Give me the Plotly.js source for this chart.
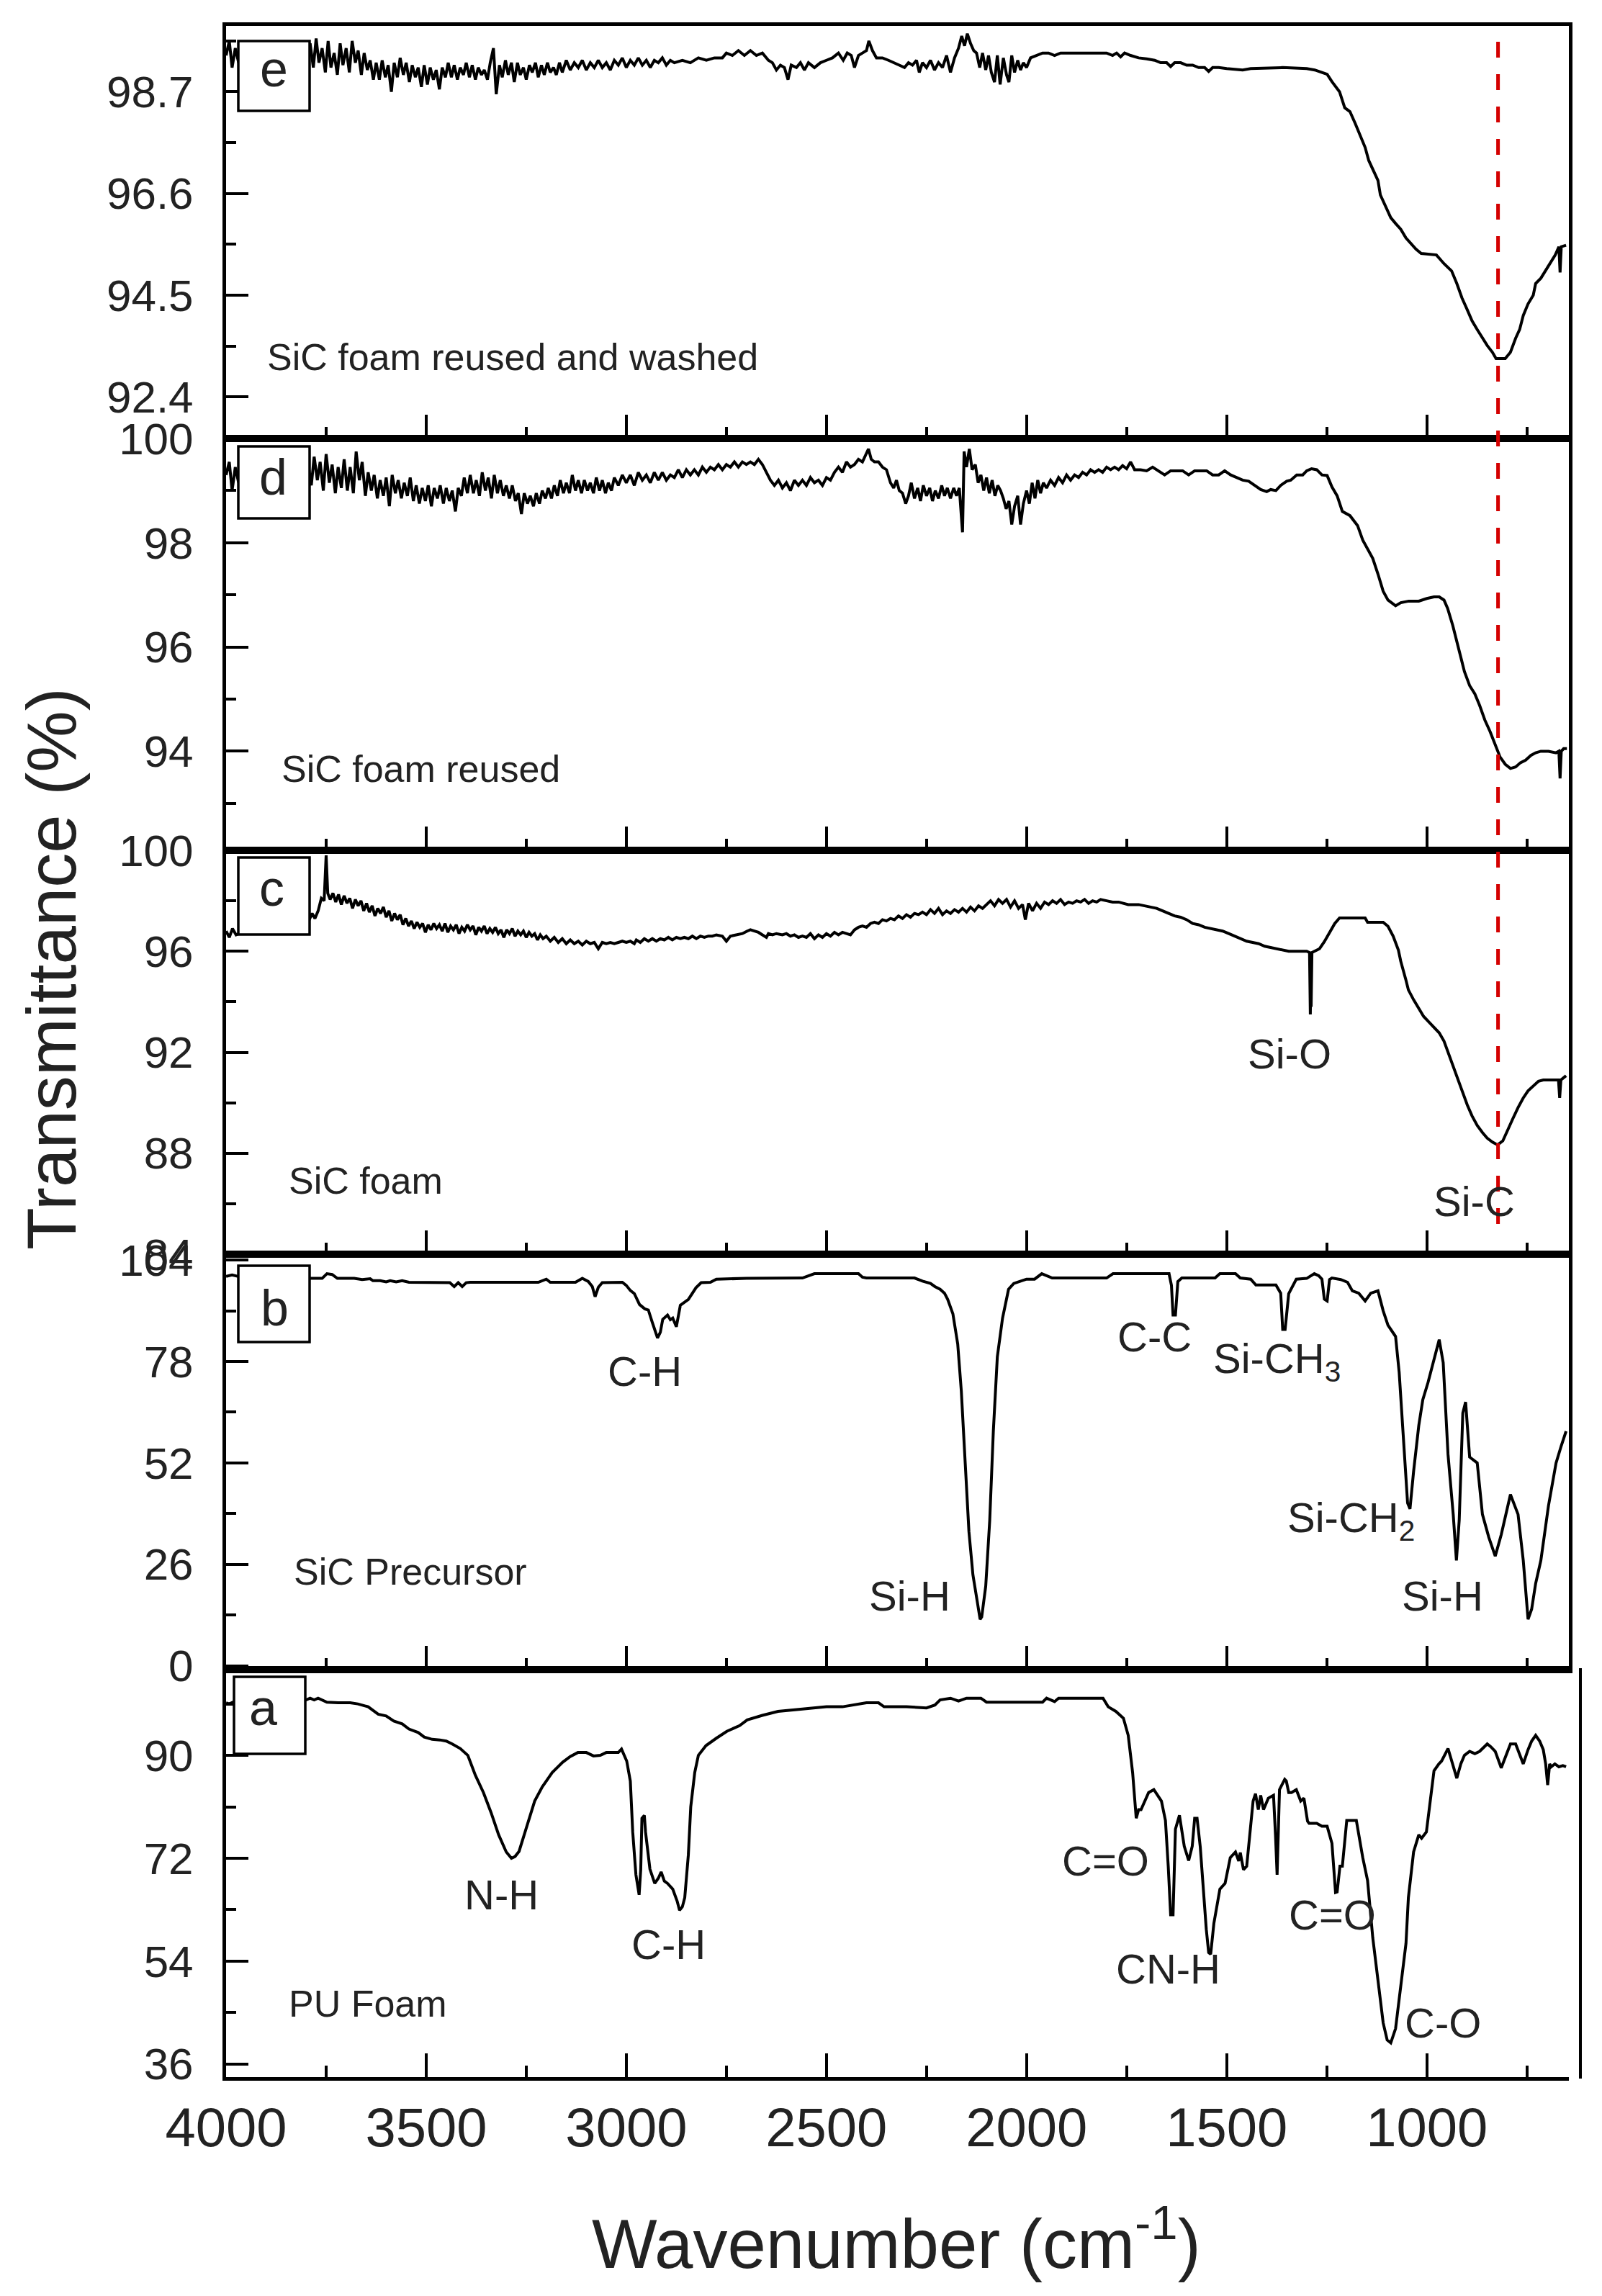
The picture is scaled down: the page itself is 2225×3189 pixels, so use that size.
<!DOCTYPE html>
<html>
<head>
<meta charset="utf-8">
<script src="https://cdn.plot.ly/plotly-3.0.1.min.js"></script>
<style>
  html, body { margin: 0; padding: 0; background: #fff; }
  #chart { width: 2225px; height: 3189px; }
</style>
</head>
<body>
<div id="chart"></div>
<script>
// FTIR spectra: [wavenumber (cm-1), transmittance (%)]
const puFoam = [[4000,99.2],[3992,99.0],[3980,99.4],[3900,99.5],[3830,99.6],[3800,99.7],[3790,100.0],[3780,99.7],[3770,100.0],[3755,99.6],[3748,99.3],[3720,99.2],[3690,99.2],[3671,99.0],[3645,98.5],[3620,97.2],[3600,96.9],[3581,96.0],[3560,95.5],[3543,94.6],[3520,94.0],[3505,93.2],[3485,92.8],[3466,92.7],[3450,92.5],[3435,92.0],[3415,91.2],[3396,90.0],[3377,86.5],[3357,83.5],[3338,80.0],[3319,76.1],[3300,73.1],[3287,72.0],[3278,72.3],[3268,73.2],[3249,77.6],[3229,82.0],[3210,84.5],[3185,87.0],[3159,88.8],[3140,89.8],[3121,90.5],[3100,90.5],[3082,89.9],[3065,90.0],[3050,90.5],[3020,90.5],[3012,91.1],[2999,89.0],[2990,85.5],[2984,76.6],[2976,69.1],[2968,65.6],[2964,70.0],[2961,79.0],[2955,79.5],[2952,76.6],[2941,70.1],[2929,67.6],[2920,68.5],[2913,69.6],[2905,68.0],[2897,67.6],[2884,66.6],[2873,64.5],[2867,62.9],[2860,63.5],[2854,65.1],[2845,72.6],[2839,81.0],[2829,87.0],[2820,90.0],[2801,91.7],[2775,93.0],[2749,94.2],[2717,95.2],[2698,96.2],[2660,97.0],[2621,97.7],[2560,98.1],[2500,98.5],[2460,98.5],[2420,98.9],[2400,99.2],[2370,99.2],[2356,98.5],[2300,98.5],[2250,98.3],[2229,98.8],[2216,99.7],[2190,100.0],[2170,99.5],[2150,100.0],[2114,100.0],[2100,99.3],[2000,99.3],[1960,99.3],[1950,100.0],[1930,99.4],[1920,100.0],[1809,100.0],[1796,98.5],[1777,97.7],[1758,96.5],[1746,93.5],[1735,87.0],[1726,79.0],[1720,80.5],[1714,80.5],[1695,83.5],[1682,84.0],[1663,82.0],[1653,78.6],[1646,70.6],[1640,62.1],[1634,62.1],[1628,77.1],[1618,79.5],[1606,74.1],[1595,71.6],[1586,74.1],[1580,79.0],[1574,79.0],[1566,74.0],[1561,69.1],[1551,59.6],[1545,55.5],[1540,55.2],[1532,60.6],[1517,66.6],[1504,67.6],[1491,72.1],[1478,73.1],[1470,71.5],[1466,73.0],[1458,70.0],[1450,70.6],[1434,82.0],[1428,83.3],[1421,80.5],[1415,83.0],[1408,80.5],[1396,82.5],[1383,83.0],[1378,76.0],[1374,69.1],[1368,84.0],[1361,85.0],[1355,85.8],[1351,85.5],[1345,83.5],[1338,83.5],[1326,84.0],[1315,82.0],[1307,82.5],[1298,78.5],[1294,78.1],[1275,78.1],[1262,77.6],[1249,77.6],[1237,74.6],[1228,66.0],[1224,66.1],[1217,70.6],[1211,70.6],[1200,78.6],[1190,78.6],[1176,78.6],[1160,72.1],[1148,68.1],[1135,58.1],[1122,50.7],[1109,43.2],[1099,40.2],[1090,39.7],[1078,42.2],[1065,49.2],[1052,57.1],[1046,65.1],[1033,73.1],[1020,76.1],[1013,75.5],[1001,76.6],[992,81.5],[982,87.3],[970,88.5],[963,89.0],[947,91.2],[940,89.5],[934,88.0],[925,86.0],[915,88.5],[906,90.0],[893,90.7],[880,90.3],[868,90.7],[849,92.0],[840,91.5],[829,90.7],[814,87.8],[800,90.5],[791,92.0],[778,92.0],[768,90.0],[759,88.5],[747,91.0],[738,92.5],[728,93.5],[718,92.5],[709,91.0],[703,88.5],[698,84.8],[693,88.5],[689,88.0],[680,88.5],[670,88.0],[660,88.2],[652,88.0]];

const sicPrecursor = [[4000,99.8],[3985,100.2],[3970,99.8],[3900,99.5],[3800,99.3],[3790,99.3],[3760,99.3],[3748,100.5],[3735,100.3],[3722,99.3],[3700,99.3],[3680,99.3],[3660,99.0],[3640,99.2],[3633,98.7],[3615,98.7],[3600,98.4],[3590,98.7],[3575,98.4],[3560,98.7],[3543,98.3],[3500,98.3],[3460,98.3],[3441,98.2],[3430,97.2],[3420,98.2],[3410,97.2],[3400,98.2],[3390,98.3],[3377,98.3],[3300,98.3],[3220,98.3],[3200,99.1],[3190,98.3],[3127,98.3],[3110,99.3],[3095,98.5],[3085,97.2],[3078,94.6],[3070,97.0],[3060,98.2],[3040,98.3],[3010,98.3],[3000,97.5],[2990,96.2],[2980,95.4],[2967,92.6],[2954,91.5],[2945,91.2],[2935,88.0],[2928,86.0],[2922,84.0],[2915,85.5],[2909,88.8],[2897,89.9],[2890,88.7],[2884,89.1],[2875,86.9],[2865,92.4],[2845,93.9],[2826,96.9],[2813,98.2],[2790,98.3],[2775,99.1],[2700,99.3],[2600,99.3],[2560,99.4],[2530,100.5],[2480,100.5],[2420,100.5],[2410,99.6],[2400,99.4],[2350,99.4],[2280,99.4],[2260,98.6],[2240,98.0],[2229,97.2],[2216,96.5],[2205,95.5],[2197,93.9],[2184,90.2],[2172,82.5],[2163,70.4],[2153,52.0],[2144,34.4],[2134,23.3],[2121,14.5],[2116,11.9],[2112,12.5],[2102,20.4],[2092,37.3],[2083,60.1],[2073,79.2],[2060,89.1],[2045,96.5],[2032,98.0],[2000,99.1],[1980,99.1],[1962,100.5],[1936,99.4],[1800,99.4],[1784,100.5],[1644,100.5],[1638,97.5],[1634,89.9],[1628,89.9],[1622,98.5],[1612,99.4],[1529,99.4],[1517,100.5],[1478,100.5],[1466,99.4],[1440,99.1],[1427,97.6],[1377,97.6],[1365,95.5],[1360,86.2],[1354,86.2],[1345,95.4],[1326,99.1],[1300,99.3],[1281,100.5],[1270,100.0],[1262,99.1],[1256,94.0],[1249,93.5],[1243,99.0],[1237,99.4],[1215,99.0],[1198,98.3],[1186,96.1],[1170,95.5],[1154,93.5],[1140,95.5],[1122,96.1],[1109,91.0],[1097,87.3],[1078,84.4],[1069,75.2],[1058,57.9],[1048,41.7],[1042,40.2],[1033,49.8],[1020,61.6],[1010,68.2],[997,72.6],[982,78.5],[969,83.6],[959,77.7],[947,54.2],[934,38.8],[926,27.0],[919,37.3],[910,64.8],[903,67.6],[893,53.5],[874,52.0],[861,38.8],[845,32.9],[829,28.1],[814,33.6],[791,43.9],[772,38.8],[759,27.0],[747,11.9],[738,14.5],[728,21.1],[715,27.0],[696,41.0],[677,52.0],[664,56.4],[652,60.1]];

const sicFoam = [[4000,96.8],[3992,96.55],[3984,96.9],[3975,96.65],[3940,96.9],[3900,97.0],[3860,97.1],[3830,97.2],[3800,97.35],[3792,97.25],[3785,97.5],[3778,97.3],[3770,97.6],[3762,98.1],[3755,98.0],[3750,99.8],[3746,98.3],[3740,98.05],[3733,98.3],[3726,97.95],[3719,98.25],[3712,97.85],[3705,98.2],[3698,97.9],[3691,98.1],[3684,97.7],[3677,98.05],[3670,97.8],[3663,98.0],[3656,97.6],[3649,97.9],[3642,97.55],[3635,97.8],[3628,97.4],[3621,97.7],[3614,97.5],[3607,97.75],[3600,97.35],[3593,97.6],[3586,97.2],[3579,97.5],[3572,97.25],[3565,97.45],[3558,97.05],[3551,97.3],[3544,97.0],[3537,97.2],[3530,96.9],[3523,97.15],[3516,96.95],[3509,97.1],[3502,96.75],[3495,97.05],[3488,96.85],[3481,97.1],[3474,96.9],[3467,97.05],[3460,96.8],[3453,97.1],[3446,96.75],[3439,97.0],[3432,96.85],[3425,97.05],[3418,96.7],[3411,96.95],[3404,96.8],[3397,97.05],[3390,96.85],[3383,97.0],[3376,96.65],[3369,96.95],[3362,96.8],[3355,97.0],[3348,96.7],[3341,96.9],[3334,96.75],[3327,96.95],[3320,96.7],[3313,96.85],[3306,96.55],[3299,96.85],[3292,96.7],[3285,96.9],[3278,96.6],[3271,96.8],[3264,96.65],[3257,96.8],[3250,96.55],[3243,96.75],[3236,96.6],[3229,96.7],[3222,96.45],[3215,96.65],[3208,96.5],[3200,96.6],[3190,96.4],[3180,96.55],[3170,96.35],[3160,96.5],[3150,96.3],[3140,96.45],[3130,96.3],[3120,96.4],[3110,96.25],[3100,96.4],[3090,96.3],[3080,96.35],[3070,96.1],[3060,96.35],[3050,96.3],[3040,96.35],[3030,96.3],[3020,96.35],[3010,96.4],[3000,96.35],[2990,96.4],[2980,96.3],[2975,96.45],[2965,96.35],[2955,96.5],[2945,96.4],[2935,96.5],[2925,96.4],[2915,96.5],[2905,96.45],[2895,96.55],[2885,96.45],[2875,96.55],[2865,96.5],[2855,96.55],[2845,96.5],[2835,96.6],[2825,96.5],[2815,96.6],[2805,96.55],[2795,96.6],[2785,96.6],[2775,96.65],[2760,96.6],[2750,96.4],[2740,96.6],[2725,96.65],[2710,96.7],[2698,96.8],[2690,96.85],[2680,96.8],[2670,96.75],[2660,96.65],[2650,96.55],[2645,96.7],[2635,96.65],[2625,96.7],[2610,96.65],[2600,96.7],[2590,96.6],[2580,96.65],[2570,96.55],[2560,96.6],[2550,96.55],[2540,96.7],[2530,96.5],[2520,96.65],[2510,96.55],[2500,96.7],[2490,96.6],[2480,96.75],[2470,96.65],[2460,96.75],[2450,96.7],[2440,96.65],[2430,96.85],[2420,96.95],[2410,97.0],[2400,96.95],[2390,97.1],[2380,97.15],[2370,97.1],[2360,97.25],[2350,97.2],[2340,97.3],[2330,97.25],[2320,97.4],[2310,97.3],[2300,97.45],[2290,97.35],[2280,97.5],[2270,97.45],[2260,97.55],[2250,97.45],[2240,97.65],[2230,97.5],[2220,97.7],[2210,97.45],[2200,97.6],[2190,97.5],[2180,97.65],[2170,97.55],[2160,97.7],[2150,97.55],[2140,97.75],[2130,97.6],[2120,97.8],[2110,97.7],[2100,97.85],[2090,98.0],[2080,97.8],[2070,98.05],[2060,97.9],[2050,98.05],[2040,97.75],[2030,98.0],[2020,97.7],[2010,97.85],[2003,97.25],[1995,97.9],[1985,97.6],[1975,97.9],[1965,97.7],[1955,97.95],[1945,97.85],[1935,98.0],[1925,97.9],[1915,98.05],[1905,97.85],[1895,97.95],[1885,97.9],[1875,98.0],[1865,97.95],[1855,98.05],[1845,97.9],[1835,98.0],[1825,97.95],[1815,98.05],[1800,98.0],[1785,97.95],[1770,97.95],[1755,97.9],[1746,97.85],[1720,97.85],[1705,97.8],[1690,97.75],[1675,97.7],[1660,97.6],[1645,97.5],[1630,97.4],[1615,97.35],[1600,97.25],[1585,97.1],[1570,97.05],[1555,96.95],[1540,96.9],[1525,96.85],[1510,96.8],[1495,96.7],[1480,96.6],[1465,96.5],[1450,96.4],[1435,96.35],[1420,96.3],[1405,96.2],[1390,96.15],[1375,96.1],[1360,96.05],[1345,96.0],[1300,96.0],[1293,95.95],[1291,93.5],[1290,94.7],[1289,93.8],[1287,95.95],[1280,96.0],[1268,96.1],[1256,96.38],[1243,96.77],[1230,97.1],[1218,97.32],[1154,97.32],[1148,97.15],[1109,97.15],[1097,96.99],[1084,96.6],[1071,96.05],[1065,95.6],[1052,94.85],[1046,94.47],[1033,94.08],[1020,93.75],[1008,93.42],[989,93.1],[969,92.77],[957,92.44],[947,92.0],[934,91.45],[925,91.0],[912,90.47],[899,89.92],[887,89.48],[874,89.1],[861,88.82],[849,88.6],[836,88.44],[823,88.33],[810,88.49],[798,88.93],[785,89.37],[772,89.81],[759,90.19],[747,90.47],[734,90.68],[721,90.85],[709,90.9],[671,90.9],[668,90.19],[665,90.9],[652,91.07]];

const sicReused = [[4000,99.3],[3992,99.55],[3985,99.0],[3977,99.45],[3970,99.2],[3940,99.4],[3900,99.3],[3860,99.45],[3820,99.35],[3795,99.5],[3787,99.1],[3780,99.65],[3772,99.2],[3765,99.55],[3757,99.0],[3750,99.7],[3742,99.15],[3735,99.5],[3727,98.95],[3720,99.45],[3712,99.05],[3705,99.6],[3697,99.0],[3690,99.45],[3682,98.95],[3675,99.75],[3667,99.2],[3660,99.55],[3652,98.9],[3645,99.35],[3637,99.0],[3630,99.3],[3622,98.85],[3615,99.2],[3607,98.9],[3600,99.25],[3592,98.7],[3585,99.3],[3577,98.95],[3570,99.2],[3562,98.85],[3555,99.15],[3547,98.9],[3540,99.25],[3532,98.8],[3525,99.1],[3517,98.75],[3510,99.05],[3502,98.8],[3495,99.1],[3487,98.7],[3480,99.05],[3472,98.85],[3465,99.1],[3457,98.75],[3450,99.05],[3442,98.8],[3435,99.0],[3427,98.6],[3420,99.05],[3412,98.9],[3405,99.25],[3397,98.95],[3390,99.3],[3382,98.95],[3375,99.2],[3367,98.9],[3360,99.35],[3352,99.0],[3345,99.25],[3337,98.85],[3330,99.3],[3322,98.95],[3315,99.2],[3307,98.9],[3300,99.1],[3292,98.85],[3285,99.1],[3277,98.8],[3270,98.95],[3262,98.55],[3255,98.95],[3247,98.75],[3240,98.9],[3232,98.7],[3225,98.95],[3217,98.75],[3210,99.0],[3202,98.85],[3195,99.05],[3187,98.85],[3180,99.1],[3172,98.9],[3165,99.2],[3157,98.95],[3150,99.15],[3142,98.95],[3135,99.3],[3127,99.0],[3120,99.2],[3112,98.95],[3105,99.2],[3097,99.0],[3090,99.15],[3082,98.95],[3075,99.25],[3067,99.0],[3060,99.2],[3052,98.95],[3045,99.15],[3037,99.0],[3030,99.25],[3020,99.1],[3010,99.3],[3000,99.15],[2990,99.3],[2980,99.1],[2970,99.35],[2960,99.2],[2950,99.3],[2940,99.15],[2930,99.35],[2920,99.2],[2910,99.35],[2900,99.2],[2890,99.3],[2880,99.25],[2870,99.4],[2860,99.25],[2850,99.4],[2840,99.3],[2830,99.4],[2820,99.3],[2810,99.45],[2800,99.35],[2790,99.45],[2780,99.4],[2770,99.5],[2760,99.4],[2750,99.5],[2740,99.45],[2730,99.55],[2720,99.45],[2710,99.55],[2700,99.5],[2690,99.55],[2680,99.5],[2670,99.6],[2660,99.5],[2650,99.35],[2640,99.2],[2630,99.1],[2620,99.2],[2610,99.05],[2600,99.15],[2590,99.0],[2580,99.2],[2570,99.1],[2560,99.2],[2550,99.1],[2540,99.25],[2530,99.15],[2520,99.2],[2510,99.1],[2500,99.25],[2490,99.2],[2480,99.35],[2470,99.45],[2460,99.35],[2450,99.55],[2440,99.45],[2430,99.5],[2420,99.6],[2410,99.55],[2400,99.7],[2395,99.8],[2388,99.6],[2380,99.55],[2370,99.55],[2360,99.45],[2350,99.4],[2340,99.15],[2332,99.05],[2325,99.2],[2318,99.0],[2310,98.95],[2302,98.75],[2295,98.9],[2288,99.15],[2280,98.85],[2272,99.05],[2265,98.8],[2258,99.1],[2250,98.9],[2242,99.05],[2235,98.8],[2228,99.0],[2220,98.85],[2212,99.1],[2205,98.9],[2198,99.05],[2190,98.85],[2182,99.05],[2175,98.9],[2168,99.05],[2160,98.2],[2156,99.75],[2150,99.45],[2143,99.8],[2136,99.4],[2128,99.5],[2121,99.15],[2114,99.3],[2107,99.0],[2100,99.25],[2093,98.95],[2086,99.2],[2079,98.9],[2072,99.1],[2065,99.0],[2058,98.85],[2051,98.65],[2044,98.8],[2037,98.35],[2030,98.7],[2022,98.9],[2015,98.35],[2008,98.75],[2000,99.0],[1993,98.75],[1986,99.15],[1979,98.85],[1972,99.2],[1965,98.95],[1958,99.15],[1950,99.05],[1940,99.2],[1930,99.1],[1920,99.25],[1910,99.15],[1900,99.3],[1890,99.2],[1880,99.3],[1870,99.25],[1860,99.35],[1850,99.3],[1840,99.4],[1830,99.35],[1820,99.4],[1810,99.35],[1800,99.45],[1790,99.4],[1780,99.45],[1770,99.4],[1760,99.48],[1750,99.42],[1740,99.55],[1730,99.4],[1715,99.4],[1700,99.38],[1685,99.45],[1670,99.38],[1655,99.3],[1640,99.38],[1610,99.38],[1595,99.3],[1580,99.38],[1550,99.38],[1535,99.3],[1520,99.3],[1505,99.38],[1490,99.3],[1475,99.25],[1460,99.2],[1445,99.18],[1430,99.1],[1415,99.02],[1400,98.98],[1390,99.02],[1377,99.0],[1365,99.1],[1350,99.18],[1340,99.2],[1325,99.3],[1310,99.3],[1300,99.38],[1288,99.42],[1275,99.4],[1262,99.3],[1249,99.29],[1237,99.07],[1224,98.9],[1211,98.6],[1192,98.52],[1173,98.33],[1160,98.05],[1148,97.89],[1135,97.7],[1122,97.4],[1109,97.07],[1097,96.9],[1078,96.79],[1065,96.85],[1045,96.88],[1020,96.88],[1000,96.93],[982,96.96],[969,96.96],[957,96.9],[948,96.74],[935,96.41],[922,96.03],[912,95.75],[906,95.53],[893,95.26],[880,95.1],[868,94.88],[855,94.6],[842,94.38],[830,94.16],[817,93.89],[804,93.75],[791,93.67],[778,93.7],[766,93.78],[753,93.83],[740,93.92],[728,93.97],[715,94.0],[696,94.0],[677,93.97],[670,94.0],[667,93.48],[664,94.0],[658,94.05],[650,94.05]];

const sicReusedWashed = [[4000,99.45],[3992,99.75],[3985,99.2],[3977,99.6],[3970,99.35],[3950,99.5],[3920,99.4],[3890,99.55],[3860,99.45],[3830,99.6],[3800,99.5],[3790,99.7],[3782,99.2],[3775,99.8],[3768,99.3],[3760,99.6],[3752,99.1],[3745,99.75],[3738,99.2],[3730,99.5],[3722,99.05],[3715,99.7],[3708,99.25],[3700,99.6],[3692,99.1],[3685,99.75],[3677,99.3],[3670,99.55],[3662,99.05],[3655,99.5],[3647,99.15],[3640,99.35],[3632,98.95],[3625,99.3],[3617,98.95],[3610,99.35],[3602,99.0],[3595,99.25],[3587,98.7],[3580,99.3],[3572,99.0],[3565,99.4],[3557,99.05],[3550,99.3],[3542,98.9],[3535,99.25],[3527,99.0],[3520,99.2],[3512,98.8],[3505,99.25],[3497,98.85],[3490,99.2],[3482,98.95],[3475,99.15],[3467,98.75],[3460,99.2],[3452,99.0],[3445,99.3],[3437,99.0],[3430,99.25],[3422,98.95],[3415,99.2],[3407,99.05],[3400,99.3],[3392,99.0],[3385,99.25],[3377,98.95],[3370,99.2],[3362,99.05],[3355,99.15],[3347,98.95],[3340,99.3],[3332,99.6],[3325,98.65],[3317,99.25],[3310,99.0],[3302,99.35],[3295,99.05],[3287,99.3],[3280,98.9],[3272,99.3],[3265,99.05],[3257,99.2],[3250,98.95],[3242,99.25],[3235,99.1],[3227,99.3],[3220,99.0],[3212,99.25],[3205,99.05],[3197,99.3],[3190,99.1],[3182,99.2],[3175,99.05],[3167,99.3],[3160,99.1],[3150,99.35],[3140,99.15],[3130,99.3],[3120,99.2],[3110,99.35],[3100,99.15],[3090,99.3],[3080,99.2],[3070,99.35],[3060,99.2],[3050,99.3],[3040,99.15],[3030,99.35],[3020,99.25],[3010,99.4],[3000,99.2],[2990,99.35],[2980,99.25],[2970,99.4],[2960,99.25],[2950,99.35],[2940,99.2],[2930,99.35],[2920,99.3],[2910,99.4],[2900,99.25],[2890,99.35],[2880,99.3],[2860,99.35],[2840,99.3],[2820,99.4],[2800,99.35],[2780,99.4],[2760,99.4],[2750,99.5],[2735,99.45],[2720,99.55],[2705,99.45],[2690,99.55],[2675,99.45],[2660,99.5],[2645,99.35],[2635,99.3],[2625,99.15],[2615,99.25],[2605,99.2],[2596,98.95],[2588,99.25],[2575,99.2],[2565,99.3],[2555,99.15],[2545,99.3],[2530,99.2],[2515,99.3],[2500,99.35],[2485,99.4],[2470,99.5],[2458,99.35],[2448,99.5],[2438,99.45],[2430,99.2],[2420,99.45],[2410,99.5],[2400,99.55],[2394,99.75],[2385,99.55],[2375,99.4],[2360,99.4],[2345,99.35],[2330,99.3],[2318,99.25],[2305,99.2],[2295,99.3],[2285,99.25],[2275,99.35],[2268,99.1],[2260,99.3],[2250,99.2],[2240,99.35],[2230,99.15],[2220,99.3],[2210,99.2],[2200,99.45],[2190,99.1],[2180,99.4],[2170,99.6],[2162,99.85],[2155,99.65],[2148,99.9],[2140,99.7],[2132,99.55],[2125,99.5],[2117,99.2],[2110,99.5],[2102,99.15],[2095,99.45],[2088,99.1],[2080,98.9],[2073,99.45],[2066,98.85],[2058,99.4],[2050,99.05],[2044,98.9],[2037,99.45],[2030,99.1],[2022,99.35],[2015,99.15],[2008,99.3],[2000,99.2],[1990,99.4],[1975,99.45],[1960,99.5],[1945,99.5],[1930,99.45],[1915,99.5],[1800,99.5],[1785,99.45],[1775,99.5],[1765,99.42],[1755,99.5],[1740,99.45],[1720,99.4],[1700,99.38],[1680,99.35],[1665,99.3],[1650,99.3],[1640,99.22],[1630,99.3],[1615,99.3],[1600,99.25],[1585,99.25],[1570,99.2],[1555,99.2],[1545,99.12],[1535,99.2],[1520,99.2],[1500,99.18],[1460,99.15],[1440,99.18],[1360,99.2],[1300,99.18],[1280,99.15],[1262,99.1],[1249,99.06],[1237,98.91],[1218,98.7],[1205,98.37],[1192,98.29],[1179,98.05],[1167,97.81],[1154,97.55],[1145,97.28],[1135,97.1],[1122,96.87],[1116,96.57],[1103,96.33],[1090,96.1],[1078,95.98],[1065,95.86],[1052,95.68],[1039,95.56],[1027,95.45],[1014,95.36],[976,95.33],[957,95.15],[938,95.0],[925,94.74],[912,94.44],[899,94.2],[887,93.97],[874,93.79],[861,93.61],[849,93.46],[836,93.32],[827,93.19],[804,93.19],[791,93.32],[778,93.61],[768,93.79],[759,94.08],[747,94.32],[734,94.5],[728,94.74],[715,94.85],[702,95.03],[689,95.21],[679,95.33],[670,95.5],[667,94.97],[664,95.5],[652,95.53]];

// panels from bottom (a) to top (e)
const spectra = [puFoam, sicPrecursor, sicFoam, sicReused, sicReusedWashed];
const panelLetters = ['a', 'b', 'c', 'd', 'e'];
const sampleNames = ['PU Foam', 'SiC Precursor', 'SiC foam', 'SiC foam reused', 'SiC foam reused and washed'];
const xTicks = [4000, 3500, 3000, 2500, 2000, 1500, 1000];
const xMinor = [3750, 3250, 2750, 2250, 1750, 1250, 750];
const yRanges = [[33.7, 105], [-1, 105.5], [84, 100], [92.1, 100], [91.54, 100.06]];
const yTicks = [[36, 54, 72, 90], [0, 26, 52, 78, 104], [84, 88, 92, 96, 100], [94, 96, 98, 100], [92.4, 94.5, 96.6, 98.7]];
const yMinor = [[45, 63, 81, 99], [13, 39, 65, 91], [86, 90, 94, 98], [93, 95, 97, 99], [93.45, 95.55, 97.65, 99.75]];
const siCBand = 822;

// page geometry in px
const L = 314, R = 2179, T = 36, B = 2885;
const panelTop = [2319, 1742, 1181, 609, 36];
const panelBottom = [2885, 2319, 1742, 1181, 609];
const px = x => (x - L) / (R - L);
const py = y => (B - y) / (B - T);
const FONT = 'Liberation Sans, Arial, sans-serif';
const INK = '#222';

const traces = spectra.map((s, i) => ({
    x: s.map(p => p[0]),
    y: s.map(p => p[1]),
    xaxis: 'x' + (i ? i + 1 : ''),
    yaxis: 'y' + (i ? i + 1 : ''),
    mode: 'lines',
    line: {color: '#000', width: 4},
    hoverinfo: 'skip'
}));

const layout = {
    width: 2225, height: 3189,
    margin: {l: L, r: 2225 - R, t: T, b: 3189 - B, pad: 0},
    paper_bgcolor: '#fff', plot_bgcolor: '#fff',
    showlegend: false,
    font: {family: FONT, color: INK},
    shapes: [], annotations: []
};

spectra.forEach((s, i) => {
    const n = i ? String(i + 1) : '';
    layout['xaxis' + n] = {
        domain: [0, 1], anchor: 'y' + n, range: [4000, 645],
        tickmode: 'array', tickvals: xTicks, ticktext: xTicks.map(String),
        ticks: 'inside', ticklen: 33, tickwidth: 4, tickcolor: '#000',
        minor: {tickmode: 'array', tickvals: xMinor, ticks: 'inside', ticklen: 16, tickwidth: 4, tickcolor: '#000', showgrid: false},
        showticklabels: i === 0, tickfont: {family: FONT, size: 76, color: INK}, ticklabelstandoff: 0,
        showline: true, linewidth: 5, linecolor: '#000', mirror: true,
        showgrid: false, zeroline: false, fixedrange: true
    };
    layout['yaxis' + n] = {
        domain: [py(panelBottom[i]), py(panelTop[i])], anchor: 'x' + n, range: yRanges[i],
        tickmode: 'array', tickvals: yTicks[i], ticktext: yTicks[i].map(String),
        ticks: 'inside', ticklen: 31, tickwidth: 4, tickcolor: '#000',
        minor: {tickmode: 'array', tickvals: yMinor[i], ticks: 'inside', ticklen: 14, tickwidth: 4, tickcolor: '#000', showgrid: false},
        tickfont: {family: FONT, size: 62, color: INK}, ticklabelstandoff: 28,
        showline: true, linewidth: 5, linecolor: '#000', mirror: i !== 0,
        showgrid: false, zeroline: false, fixedrange: true
    };
});

const ann = (text, x, y, size, xanchor, extra) => Object.assign({
    text: text, x: px(x), y: py(y), xref: 'paper', yref: 'paper',
    xanchor: xanchor || 'center', yanchor: 'middle', showarrow: false,
    font: {family: FONT, size: size, color: INK}
}, extra || {});

// letter boxes (white, on top of the traces)
const boxes = [[325, 2329, 424, 2436], [331, 1758, 430, 1864], [331, 1191, 430, 1298], [331, 620, 430, 720], [331, 57, 430, 154]];
const letterPos = [[365, 2372], [381, 1817], [377, 1234], [379, 663], [380, 96]];
const namePos = [[399, 2783], [406, 2183], [399, 1640], [389, 1068], [369, 496]];
boxes.forEach((b, i) => {
    layout.shapes.push({type: 'rect', xref: 'paper', yref: 'paper', x0: px(b[0]), x1: px(b[2]), y0: py(b[3]), y1: py(b[1]),
        line: {color: '#000', width: 3.5}, fillcolor: '#fff', layer: 'above'});
    layout.annotations.push(ann(panelLetters[i], letterPos[i][0], letterPos[i][1], 70));
    layout.annotations.push(ann(sampleNames[i], namePos[i][0], namePos[i][1], 52, 'left'));
});

// Si-C reference line
layout.shapes.push({type: 'line', xref: 'x', yref: 'paper', x0: siCBand, x1: siCBand, y0: py(58), y1: py(1715),
    line: {color: '#d40000', width: 5, dash: '22px,23px'}, layer: 'above'});
// offset right frame of panel a
layout.shapes.push({type: 'line', xref: 'paper', yref: 'paper', x0: px(2195), x1: px(2195), y0: py(2887), y1: py(2317),
    line: {color: '#000', width: 4}});

// band assignments
[
    ['Si-O', 1791, 1464, 'center'],
    ['Si-C', 2047, 1668, 'center'],
    ['C-H', 895, 1904, 'center'],
    ['Si-H', 1263, 2216, 'center'],
    ['C-C', 1603, 1857, 'center'],
    ['Si-CH<sub>3</sub>', 1683, 1891, 'left'],
    ['Si-CH<sub>2</sub>', 1786, 2112, 'left'],
    ['Si-H', 2003, 2216, 'center'],
    ['N-H', 696, 2631, 'center'],
    ['C-H', 928, 2700, 'center'],
    ['C=O', 1535, 2584, 'center'],
    ['CN-H', 1622, 2734, 'center'],
    ['C=O', 1850, 2659, 'center'],
    ['C-O', 2004, 2809, 'center']
].forEach(p => layout.annotations.push(ann(p[0], p[1], p[2], 58, p[3])));

// axis titles
layout.annotations.push(ann('Transmittance (%)', 72, 1346, 96, 'center', {textangle: -90}));
layout.annotations.push(ann('Wavenumber (cm<sup>-1</sup>)', 1245, 3109, 96, 'center'));

Plotly.newPlot('chart', traces, layout, {displayModeBar: false, staticPlot: true});
</script>
</body>
</html>
